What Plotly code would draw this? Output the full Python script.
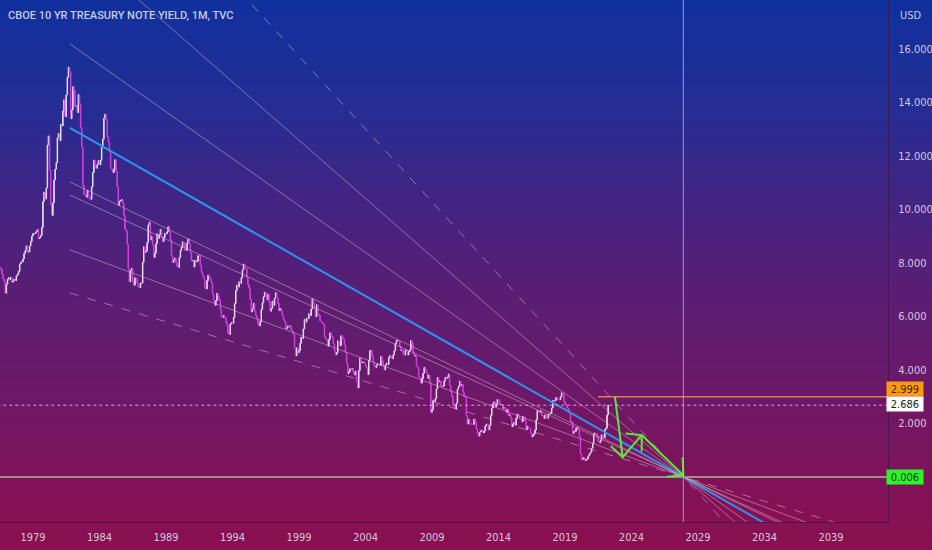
import pandas as pd
import plotly.graph_objects as go

# CBOE 10 yr treasury note yield, monthly closes from Jul 1976 to Apr 2022
first_month = "1976-07-01"
closes = [
    7.83, 7.77, 7.59, 7.41, 7.29, 6.87,  # 1976 Jul-Dec
    7.21, 7.39, 7.46, 7.37, 7.46, 7.28, 7.33, 7.40, 7.34, 7.52, 7.58, 7.69,  # 1977
    7.96, 8.03, 8.04, 8.15, 8.35, 8.46, 8.64, 8.41, 8.42, 8.64, 8.81, 9.01,  # 1978
    9.10, 9.10, 9.12, 9.18, 9.25, 8.91, 8.95, 9.03, 9.33, 10.30, 10.65, 10.39,  # 1979
    10.80, 12.41, 12.75, 11.47, 10.18, 9.78, 10.25, 11.10, 11.51, 11.75, 12.68, 12.84,  # 1980
    12.57, 13.19, 13.12, 13.68, 14.10, 13.47, 14.28, 14.94, 15.32, 15.15, 13.39, 13.72,  # 1981
    14.59, 14.43, 13.86, 13.87, 13.62, 14.30, 13.95, 13.06, 12.34, 10.91, 10.55, 10.54,  # 1982
    10.46, 10.72, 10.51, 10.40, 10.38, 10.85, 11.38, 11.85, 11.65, 11.54, 11.69, 11.83,  # 1983
    11.67, 11.84, 12.32, 12.63, 13.41, 13.56, 13.36, 12.72, 12.52, 12.16, 11.57, 11.50,  # 1984
    11.38, 11.51, 11.86, 11.43, 10.85, 10.16, 10.31, 10.33, 10.37, 10.24, 9.78, 9.26,  # 1985
    9.19, 8.70, 7.78, 7.30, 7.71, 7.80, 7.30, 7.17, 7.45, 7.43, 7.25, 7.11,  # 1986
    7.08, 7.25, 7.25, 8.02, 8.61, 8.40, 8.45, 8.76, 9.42, 9.52, 8.86, 8.99,  # 1987
    8.67, 8.21, 8.37, 8.72, 9.09, 8.92, 9.06, 9.26, 8.98, 8.80, 8.96, 9.11,  # 1988
    9.09, 9.17, 9.36, 9.18, 8.86, 8.28, 8.02, 8.11, 8.19, 8.01, 7.87, 7.84,  # 1989
    8.21, 8.47, 8.59, 8.79, 8.76, 8.48, 8.47, 8.75, 8.89, 8.72, 8.39, 8.08,  # 1990
    8.09, 7.85, 8.11, 8.04, 8.07, 8.28, 8.27, 7.90, 7.65, 7.53, 7.42, 7.09,  # 1991
    7.03, 7.34, 7.54, 7.48, 7.39, 7.26, 6.84, 6.59, 6.42, 6.59, 6.87, 6.77,  # 1992
    6.60, 6.26, 5.98, 5.97, 6.04, 5.96, 5.81, 5.68, 5.36, 5.33, 5.72, 5.77,  # 1993
    5.75, 5.97, 6.48, 6.97, 7.18, 7.10, 7.30, 7.24, 7.46, 7.74, 7.96, 7.81,  # 1994
    7.78, 7.47, 7.20, 7.06, 6.63, 6.17, 6.28, 6.49, 6.20, 6.04, 5.93, 5.71,  # 1995
    5.65, 5.81, 6.27, 6.51, 6.74, 6.91, 6.87, 6.64, 6.83, 6.53, 6.20, 6.30,  # 1996
    6.58, 6.42, 6.69, 6.89, 6.71, 6.49, 6.22, 6.30, 6.21, 6.03, 5.88, 5.81,  # 1997
    5.54, 5.57, 5.65, 5.64, 5.65, 5.50, 5.46, 5.34, 4.81, 4.53, 4.83, 4.65,  # 1998
    4.72, 5.00, 5.23, 5.18, 5.54, 5.90, 5.79, 5.94, 5.92, 6.11, 6.03, 6.28,  # 1999
    6.66, 6.52, 6.26, 5.99, 6.44, 6.10, 6.05, 5.83, 5.80, 5.74, 5.72, 5.24,  # 2000
    5.16, 5.10, 4.89, 5.14, 5.39, 5.28, 5.24, 4.97, 4.73, 4.57, 4.65, 5.09,  # 2001
    5.04, 4.91, 5.28, 5.21, 5.16, 4.93, 4.65, 4.26, 3.87, 3.94, 4.05, 4.03,  # 2002
    4.05, 3.90, 3.81, 3.96, 3.57, 3.33, 3.98, 4.45, 4.27, 4.29, 4.30, 4.27,  # 2003
    4.15, 4.08, 3.83, 4.35, 4.72, 4.73, 4.50, 4.28, 4.13, 4.10, 4.19, 4.23,  # 2004
    4.22, 4.17, 4.50, 4.34, 4.14, 4.00, 4.18, 4.26, 4.20, 4.46, 4.54, 4.47,  # 2005
    4.42, 4.57, 4.72, 4.99, 5.11, 5.11, 5.09, 4.88, 4.72, 4.73, 4.60, 4.56,  # 2006
    4.76, 4.72, 4.56, 4.69, 4.75, 5.10, 5.00, 4.67, 4.52, 4.53, 4.15, 4.10,  # 2007
    3.74, 3.74, 3.51, 3.68, 3.88, 4.10, 4.01, 3.89, 3.69, 3.81, 3.53, 2.42,  # 2008
    2.52, 2.87, 2.82, 2.93, 3.29, 3.72, 3.56, 3.59, 3.40, 3.39, 3.40, 3.59,  # 2009
    3.73, 3.69, 3.73, 3.85, 3.42, 3.20, 3.01, 2.70, 2.65, 2.54, 2.76, 3.29,  # 2010
    3.39, 3.58, 3.41, 3.46, 3.17, 3.00, 3.00, 2.30, 1.98, 2.15, 2.01, 1.98,  # 2011
    1.97, 1.97, 2.17, 2.05, 1.80, 1.62, 1.53, 1.68, 1.72, 1.75, 1.65, 1.72,  # 2012
    1.91, 1.98, 1.96, 1.76, 1.93, 2.30, 2.58, 2.74, 2.81, 2.62, 2.72, 2.90,  # 2013
    2.86, 2.71, 2.72, 2.71, 2.56, 2.60, 2.54, 2.42, 2.53, 2.30, 2.33, 2.21,  # 2014
    1.88, 1.98, 2.04, 1.94, 2.20, 2.36, 2.32, 2.17, 2.17, 2.07, 2.26, 2.24,  # 2015
    2.09, 1.78, 1.89, 1.81, 1.81, 1.64, 1.50, 1.56, 1.63, 1.76, 2.14, 2.49,  # 2016
    2.43, 2.42, 2.48, 2.30, 2.30, 2.19, 2.32, 2.21, 2.20, 2.36, 2.35, 2.40,  # 2017
    2.58, 2.86, 2.84, 2.87, 2.98, 2.91, 2.89, 2.89, 3.00, 3.15, 3.12, 2.83,  # 2018
    2.71, 2.68, 2.57, 2.53, 2.40, 2.07, 2.06, 1.63, 1.70, 1.71, 1.81, 1.86,  # 2019
    1.76, 1.50, 0.87, 0.66, 0.67, 0.73, 0.62, 0.65, 0.68, 0.79, 0.87, 0.93,  # 2020
    1.08, 1.26, 1.61, 1.64, 1.62, 1.52, 1.32, 1.28, 1.37, 1.58, 1.56, 1.47,  # 2021
    1.78, 1.83, 2.32, 2.686,  # 2022 Jan-Apr
]

# fan lines: all drawn from Oct 1981 through one pivot
fan_start_year = 1981.78
fan_start_vals = [25.1, 20.09, 16.19, 13.05, 11.03, 10.54, 8.49, 6.88]
fan_kinds = ["dash", "thin", "thin", "main", "thin", "thin", "thin", "dash"]
pivot_year = 2027.9
pivot_val = 0.006

target_from = 2021.48
target_level = 2.999
last_price = 2.686

# green arrow drawing (None = pen up)
arrow_years = [2022.76, 2023.34, None, 2022.44, 2023.34, 2024.77, None,
               2023.56, 2024.77, 2024.77, None, 2024.77, 2027.9, None,
               2026.65, 2027.9, 2027.85]
arrow_vals = [3.00, 0.74, None, 1.16, 0.74, 1.57, None,
              1.63, 1.57, 0.95, None, 1.57, 0.07, None,
              0.01, 0.07, 0.74]

year_ticks = [1979, 1984, 1989, 1994, 1999, 2004, 2009, 2014, 2019, 2024, 2029, 2034, 2039]
price_ticks = [2, 4, 6, 8, 10, 12, 14, 16]


def yd(y):
    if y is None:
        return None
    return pd.Timestamp("2000-01-01") + pd.Timedelta(days=(y - 2000) * 365.2425)


W, H = 932, 550
ML, MR, MT, MB = 0, 44, 0, 28
PH = H - MT - MB
AXIS_FONT = "Liberation Sans Narrow, DejaVu Sans Condensed, Roboto"

dates = pd.date_range(first_month, periods=len(closes), freq="MS")
opens = [closes[0]] + closes[:-1]
highs = [max(o, c) for o, c in zip(opens, closes)]
lows = [min(o, c) for o, c in zip(opens, closes)]

fig = go.Figure()

fig.add_trace(go.Candlestick(
    x=dates, open=opens, high=highs, low=lows, close=closes,
    increasing=dict(line=dict(color="#e8daf6", width=1), fillcolor="#e8daf6"),
    decreasing=dict(line=dict(color="#d23ee0", width=1), fillcolor="#d23ee0"),
    whiskerwidth=0, hoverinfo="skip", showlegend=False,
))

# fan lines, extended past the pivot down to below the chart
for v0, kind in zip(fan_start_vals, fan_kinds):
    v1 = -2.5
    y1 = pivot_year + (pivot_year - fan_start_year) * (pivot_val - v1) / (v0 - pivot_val)
    if kind == "main":
        ln = dict(color="#2b94ee", width=2)
    elif kind == "dash":
        ln = dict(color="rgba(225,195,225,0.5)", width=1, dash="dash")
    else:
        ln = dict(color="rgba(225,190,195,0.5)", width=1)
    fig.add_trace(go.Scatter(
        x=[yd(fan_start_year), yd(y1)], y=[v0, v1], mode="lines",
        line=ln, hoverinfo="skip", showlegend=False,
    ))

# horizontal levels
fig.add_trace(go.Scatter(
    x=[yd(1970), yd(2050)], y=[pivot_val, pivot_val], mode="lines",
    line=dict(color="#a08c8c", width=2), hoverinfo="skip", showlegend=False,
))
fig.add_trace(go.Scatter(
    x=[yd(target_from), yd(2050)], y=[target_level, target_level], mode="lines",
    line=dict(color="#e27a5c", width=1.5), hoverinfo="skip", showlegend=False,
))
fig.add_trace(go.Scatter(
    x=[yd(1970), yd(2050)], y=[last_price, last_price], mode="lines",
    line=dict(color="rgba(235,170,235,0.9)", width=1, dash="dot"),
    hoverinfo="skip", showlegend=False,
))

# green arrows
fig.add_trace(go.Scatter(
    x=[yd(y) for y in arrow_years], y=arrow_vals, mode="lines",
    line=dict(color="#5be83a", width=2), connectgaps=False,
    hoverinfo="skip", showlegend=False,
))

# gradient background in bands
stops = [(0, (16, 48, 158)), (90, (32, 46, 150)), (180, (60, 38, 135)),
         (280, (88, 30, 118)), (380, (106, 25, 106)), (480, (128, 18, 88)),
         (550, (138, 16, 80))]


def grad(py):
    for (a, ca), (b, cb) in zip(stops[:-1], stops[1:]):
        if a <= py <= b:
            t = (py - a) / (b - a)
            return "rgb(%d,%d,%d)" % tuple(round(ca[i] + (cb[i] - ca[i]) * t) for i in range(3))
    return "rgb(%d,%d,%d)" % stops[-1][1]


shapes = []
step = 5
for py in range(0, H, step):
    shapes.append(dict(
        type="rect", xref="paper", yref="paper", layer="below",
        x0=-0.02, x1=(W + 10) / (W - MR),
        y0=(PH - py - step - 1) / PH, y1=(PH - py) / PH,
        fillcolor=grad(py + step / 2), line=dict(width=0),
    ))
# crosshair at the pivot
shapes.append(dict(
    type="line", xref="x", yref="paper", x0=yd(pivot_year), x1=yd(pivot_year),
    y0=0, y1=1, line=dict(color="rgba(190,180,200,0.8)", width=1),
))

annotations = [
    dict(text="CBOE 10 YR TREASURY NOTE YIELD, 1M, TVC", xref="paper", yref="paper",
         x=6 / (W - MR), y=(PH - 15) / PH, xanchor="left", yanchor="middle",
         showarrow=False, font=dict(family="Roboto", size=11, color="#c6cbe6", weight=500)),
    dict(text="USD", xref="paper", yref="paper", x=1, xshift=10, y=(PH - 15) / PH,
         xanchor="left", yanchor="middle", showarrow=False,
         font=dict(family=AXIS_FONT, size=11, color="#c6cbe6")),
]
for val, bg, fg, ys in [(target_level, "#ff9a10", "#3a2600", 8),
                        (last_price, "#ffffff", "#222222", 1),
                        (pivot_val, "#2af52a", "#123012", 0)]:
    annotations.append(dict(
        text="%.3f" % val, xref="paper", yref="y", x=1, xshift=-2, y=val, yshift=ys,
        xanchor="left", yanchor="middle", showarrow=False, bgcolor=bg,
        width=34, height=12, borderpad=1, align="center",
        font=dict(family=AXIS_FONT, size=11, color=fg),
    ))

fig.update_layout(
    width=W, height=H, margin=dict(l=ML, r=MR, t=MT, b=MB),
    paper_bgcolor="rgb(138,16,80)", plot_bgcolor="rgba(0,0,0,0)",
    shapes=shapes, annotations=annotations, hovermode=False,
    xaxis=dict(
        type="date", range=[yd(1976.52), yd(2043.29)], rangeslider=dict(visible=False),
        tickvals=[pd.Timestamp("%d-01-01" % y) for y in year_ticks],
        ticktext=[str(y) for y in year_ticks], ticks="", ticklabelstandoff=5,
        showgrid=False, zeroline=False, showline=True, linecolor="rgba(60,20,70,0.7)",
        tickfont=dict(family=AXIS_FONT, size=11, color="#d6c6dc"),
    ),
    yaxis=dict(
        side="right", range=[-1.68, 17.83], tickvals=price_ticks, tickformat=".3f",
        ticks="", ticklabelstandoff=7, showgrid=False, zeroline=False,
        showline=True, linecolor="rgba(60,20,70,0.7)",
        tickfont=dict(family=AXIS_FONT, size=11, color="#d6c6dc"),
    ),
)

fig.write_html("out.html", config={"displayModeBar": False},
               post_script="document.body.style.margin='0';")
